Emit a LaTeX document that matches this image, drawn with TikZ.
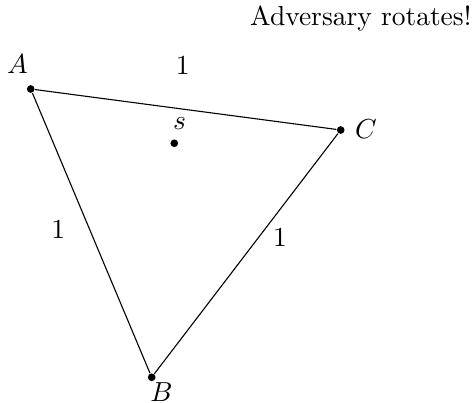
\documentclass[tikz,border=0pt]{standalone}
\begin{document}
\begin{tikzpicture}[x=0.3636pt,y=-0.3636pt,
  pt/.style={circle,fill=black,inner sep=0pt,minimum size=2.8pt},
  lbl/.style={inner sep=0pt}]
\useasboundingbox (0,0) rectangle (475,403);
\node[pt] (A) at (30.7,89) {};
\node[pt] (B) at (151.7,377.3) {};
\node[pt] (C) at (340.7,130) {};
\node[pt] (s) at (174.3,143.3) {};
\draw (A) -- (C) -- (B) -- (A);
\node[lbl] (lA) at (17.5,64) {$A$};
\node[lbl] (lB) at (161.5,392) {$B$};
\node[lbl] (lC) at (366,129) {$C$};
\node[lbl] (ls) at (179.5,124) {$s$};
\node[lbl] (e1) at (182.7,65) {1};
\node[lbl] (e2) at (58.3,229.3) {1};
\node[lbl] (e3) at (280,237) {1};
\node[lbl,anchor=east] (t) at (472,18) {Adversary rotates!};
\end{tikzpicture}
\end{document}
